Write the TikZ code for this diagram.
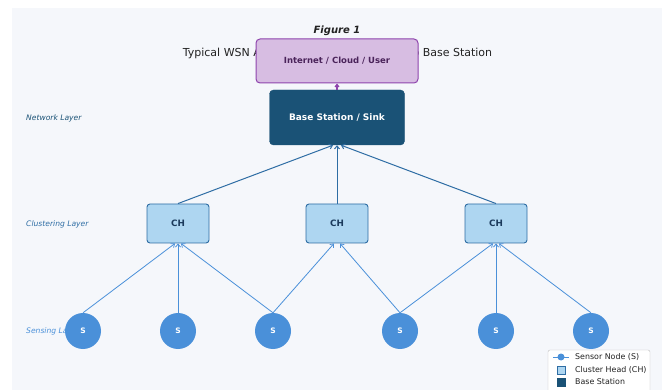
\documentclass[tikz,border=0pt]{standalone}
\usepackage{fontspec}
\setmainfont{DejaVu Sans}
\usetikzlibrary{arrows.meta}
\definecolor{panel}{HTML}{F5F7FB}
\definecolor{netfill}{HTML}{D7BDE2}
\definecolor{netdraw}{HTML}{8E44AD}
\definecolor{nettext}{HTML}{4A235A}
\definecolor{bsfill}{HTML}{1A5276}
\definecolor{chfill}{HTML}{AED6F1}
\definecolor{chdraw}{HTML}{2E6DA4}
\definecolor{chtext}{HTML}{1B3A5C}
\definecolor{sfill}{HTML}{4A90D9}
\definecolor{titletext}{HTML}{222222}
\tikzset{
  netbox/.style={draw=netdraw, line width=1pt, fill=netfill, rounded corners=4pt, minimum width=162pt, minimum height=44pt, text=nettext, font=\fontsize{8.5}{10}\selectfont\bfseries},
  bsbox/.style={draw=bsfill, fill=bsfill, rounded corners=4pt, minimum width=135pt, minimum height=55pt, text=white, font=\fontsize{9}{11}\selectfont\bfseries},
  chbox/.style={draw=chdraw, line width=0.9pt, fill=chfill, rounded corners=3pt, minimum width=62pt, minimum height=39pt, text=chtext, font=\fontsize{8.8}{10}\selectfont\bfseries},
  snode/.style={circle, fill=sfill, minimum size=36pt, inner sep=0pt, text=white, font=\fontsize{7.5}{9}\selectfont\bfseries},
  layerlbl/.style={anchor=west, inner sep=0pt, font=\fontsize{7.6}{9}\selectfont\itshape},
  upper/.style={draw=chdraw, line width=1pt, -{Straight Barb[length=3pt,width=5pt]}},
  lower/.style={draw=sfill, line width=0.8pt, -{Straight Barb[length=3pt,width=5pt]}},
  legtext/.style={anchor=west, inner sep=0pt, font=\fontsize{7.9}{9}\selectfont, text=titletext}
}
\begin{document}
\begin{tikzpicture}[x=1pt,y=-1pt]
\useasboundingbox (0,0) rectangle (667,390);
\begin{scope}
\clip (0,0) rectangle (667,390);
\fill[panel] (12,8) rectangle (662,400);

% titles
\node[font=\fontsize{10}{12}\selectfont\bfseries\itshape, text=titletext] (title) at (337,31) {Figure 1};
\node[font=\fontsize{11}{13}\selectfont, text=titletext] (subtitle) at (337.5,53.5) {Typical WSN Architecture: Sensor Nodes to Base Station};

% layer labels
\node[layerlbl, text=bsfill] (lnet) at (26,118) {Network Layer};
\node[layerlbl, text=chdraw] (lclu) at (26,224) {Clustering Layer};
\node[layerlbl, text=sfill] (lsen) at (26,331) {Sensing Layer};

% nodes
\node[netbox] (net) at (337,61) {Internet / Cloud / User};
\node[bsbox] (bs) at (337,117.5) {Base Station / Sink};
\node[chbox] (ch1) at (178,223.5) {CH};
\node[chbox] (ch2) at (337,223.5) {CH};
\node[chbox] (ch3) at (496,223.5) {CH};
\node[snode] (s1) at (83,331) {S};
\node[snode] (s2) at (178,331) {S};
\node[snode] (s3) at (273,331) {S};
\node[snode] (s4) at (400,331) {S};
\node[snode] (s5) at (496,331) {S};
\node[snode] (s6) at (591,331) {S};

% connectors
\draw[draw=netdraw, line width=1.2pt, -{Straight Barb[length=2.5pt,width=4pt]}] (bs.north) -- (net.south);
\draw[upper] (ch1.north) -- ([xshift=-4pt]bs.south);
\draw[upper] (ch2.north) -- (bs.south);
\draw[upper] (ch3.north) -- ([xshift=4pt]bs.south);
\draw[lower] (s1.north) -- ([xshift=-3pt]ch1.south);
\draw[lower] (s2.north) -- (ch1.south);
\draw[lower] (s3.north) -- ([xshift=3pt]ch1.south);
\draw[lower] (s3.north) -- ([xshift=-3pt]ch2.south);
\draw[lower] (s4.north) -- ([xshift=3pt]ch2.south);
\draw[lower] (s4.north) -- ([xshift=-3pt]ch3.south);
\draw[lower] (s5.north) -- (ch3.south);
\draw[lower] (s6.north) -- ([xshift=3pt]ch3.south);

% legend
\draw[draw=black!25, fill=white, rounded corners=2pt] (548,350) rectangle (650,398);
\coordinate (la) at (553,357);
\coordinate (lb) at (569,357);
\draw[draw=sfill, line width=1pt] (la) -- (lb);
\node[circle, fill=sfill, minimum size=7pt, inner sep=0pt] (lm1) at (561,357) {};
\node[legtext] (lt1) at (575,357) {Sensor Node (S)};
\node[draw=chdraw, fill=chfill, minimum size=8pt, inner sep=0pt] (lm2) at (561,370) {};
\node[legtext] (lt2) at (575,370) {Cluster Head (CH)};
\node[draw=bsfill, fill=bsfill, minimum size=8pt, inner sep=0pt] (lm3) at (561,382) {};
\node[legtext] (lt3) at (575,382) {Base Station};
\end{scope}
\end{tikzpicture}
\end{document}
